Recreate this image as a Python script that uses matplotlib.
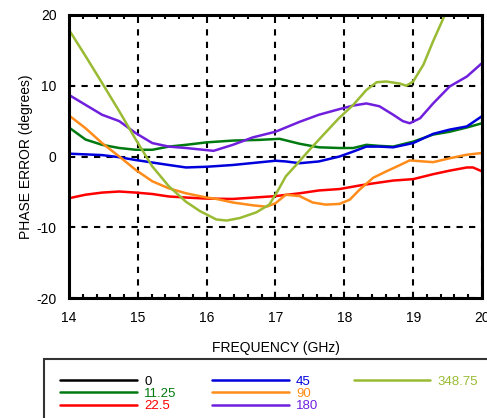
import matplotlib
matplotlib.use("Agg")
import matplotlib.pyplot as plt
from matplotlib.lines import Line2D
from matplotlib.ticker import MultipleLocator

plt.rcParams['font.family'] = ['Liberation Sans', 'DejaVu Sans']
plt.rcParams['axes.unicode_minus'] = False

# phase states (degrees) and their colours
states = ["0", "11.25", "22.5", "45", "90", "180", "348.75"]
colors = ["#000000", "#007a10", "#ff0000", "#0000dd", "#ff8c1a", "#7020dd", "#99bb33"]

# frequency (GHz) / phase error (deg)
f_0 = []
e_0 = []

f_11 = [14, 14.24, 14.48, 14.73, 14.97, 15.21, 15.45, 15.7, 16.0, 16.38, 16.77, 17.06, 17.35,
        17.63, 17.93, 18.13, 18.32, 18.51, 18.71, 19.0, 19.29, 19.53, 19.78, 20]
e_11 = [4.1, 2.4, 1.65, 1.2, 0.95, 0.95, 1.4, 1.65, 2.0, 2.25, 2.35, 2.5, 1.8,
        1.3, 1.2, 1.2, 1.65, 1.5, 1.4, 2.1, 3.1, 3.5, 4.1, 4.7]

f_22 = [14, 14.24, 14.48, 14.73, 14.97, 15.21, 15.45, 15.7, 16.0, 16.38, 17.0, 17.35, 17.63,
        17.93, 18.22, 18.42, 18.71, 19.0, 19.29, 19.53, 19.78, 19.87, 20]
e_22 = [-5.9, -5.4, -5.1, -4.95, -5.1, -5.3, -5.65, -5.8, -5.95, -6.0, -5.6, -5.2, -4.8,
        -4.6, -4.1, -3.8, -3.4, -3.2, -2.5, -2.0, -1.55, -1.55, -2.1]

f_45 = [14, 14.48, 14.73, 14.97, 15.21, 15.45, 15.7, 16.0, 16.38, 17.0, 17.15, 17.35, 17.63,
        17.93, 18.13, 18.32, 18.51, 18.71, 19.0, 19.29, 19.53, 19.78, 20]
e_45 = [0.4, 0.2, -0.1, -0.5, -0.85, -1.2, -1.55, -1.45, -1.2, -0.6, -0.7, -0.95, -0.7,
        0.0, 0.7, 1.4, 1.4, 1.3, 1.9, 3.2, 3.8, 4.25, 5.7]

f_90 = [14, 14.24, 14.48, 14.73, 14.97, 15.21, 15.45, 15.7, 16.0, 16.14, 16.38, 16.67, 16.87,
        17.0, 17.15, 17.35, 17.54, 17.73, 17.93, 18.08, 18.22, 18.42, 18.61, 18.81, 18.95,
        19.15, 19.29, 19.53, 19.78, 20]
e_90 = [5.8, 4.0, 1.9, 0.0, -1.9, -3.5, -4.5, -5.2, -5.8, -6.0, -6.5, -6.9, -7.1,
        -6.6, -5.4, -5.6, -6.5, -6.8, -6.7, -6.1, -4.7, -3.0, -2.1, -1.2, -0.55,
        -0.7, -0.8, -0.25, 0.25, 0.5]

f_180 = [14, 14.24, 14.48, 14.73, 14.97, 15.21, 15.45, 15.7, 16.0, 16.1, 16.38, 16.67, 17.0,
         17.35, 17.63, 17.93, 18.13, 18.32, 18.51, 18.71, 18.85, 18.95, 19.1, 19.29, 19.53,
         19.78, 20]
e_180 = [8.7, 7.3, 5.9, 5.0, 3.3, 1.9, 1.4, 1.2, 0.9, 0.8, 1.65, 2.7, 3.5,
         4.9, 5.9, 6.7, 7.2, 7.5, 7.1, 5.9, 5.0, 4.7, 5.4, 7.5, 9.9,
         11.3, 13.2]

f_348 = [14, 14.24, 14.48, 14.73, 14.97, 15.21, 15.45, 15.7, 15.9, 16.14, 16.29, 16.48, 16.72,
         16.91, 17.03, 17.15, 17.3, 17.49, 17.68, 17.92, 18.13, 18.32, 18.47, 18.61, 18.81,
         18.9, 19.0, 19.15, 19.29, 19.46, 19.6]
e_348 = [17.9, 14.2, 10.4, 6.4, 2.4, -1.4, -4.2, -6.4, -7.7, -8.9, -9.05, -8.7, -7.9,
         -6.8, -4.9, -2.8, -1.2, 0.9, 2.9, 5.4, 7.3, 9.4, 10.5, 10.6, 10.3,
         10.0, 10.6, 13.0, 16.3, 20.0, 23.0]

series = [(f_0, e_0), (f_11, e_11), (f_22, e_22), (f_45, e_45),
          (f_90, e_90), (f_180, e_180), (f_348, e_348)]

fig = plt.figure(figsize=(4.87, 4.18), dpi=100)
ax = fig.add_axes([69 / 487, 1 - 298 / 418, 413 / 487, 283 / 418])

handles = []
for (f, e), name, c in zip(series, states, colors):
    h, = ax.plot(f, e, color=c, lw=1.8, label=name,
                 solid_joinstyle='round', solid_capstyle='round')
    handles.append(h)

ax.set_xlim(14, 20)
ax.set_ylim(-20, 20)
ax.xaxis.set_major_locator(MultipleLocator(1))
ax.xaxis.set_minor_locator(MultipleLocator(0.2))
ax.yaxis.set_major_locator(MultipleLocator(10))
ax.tick_params(which='both', direction='in', top=True, right=True, labelsize=10, width=1.5)
ax.tick_params(which='major', length=0, pad=9)
ax.tick_params(which='minor', length=3)
ax.grid(True, which='major', color='black', ls=(0, (3, 3)), lw=1.5)
for s in ax.spines.values():
    s.set_linewidth(2.2)

ax.set_xlabel("FREQUENCY (GHz)", fontsize=10, labelpad=12)
ax.set_ylabel("PHASE ERROR (degrees)", fontsize=10, labelpad=2)

# legend: 3 columns (3, 3, 1); blanks fill the last column
blank = Line2D([], [], color='none')
leg_handles = handles + [blank, blank]
leg_labels = states + ["", ""]
leg = fig.legend(leg_handles, leg_labels,
                 loc='upper left', bbox_to_anchor=(44 / 487, 1 - 359 / 418),
                 ncol=3, fontsize=9.5, frameon=True, fancybox=False,
                 handlelength=5.8, handletextpad=0.55, columnspacing=2.7,
                 labelspacing=0.0, borderpad=1.25, borderaxespad=0)
leg.get_frame().set_edgecolor('black')
leg.get_frame().set_linewidth(1.5)
for txt, c in zip(leg.get_texts(), colors + ['black', 'black']):
    txt.set_color(c)

fig.savefig("out.png", dpi=100)
